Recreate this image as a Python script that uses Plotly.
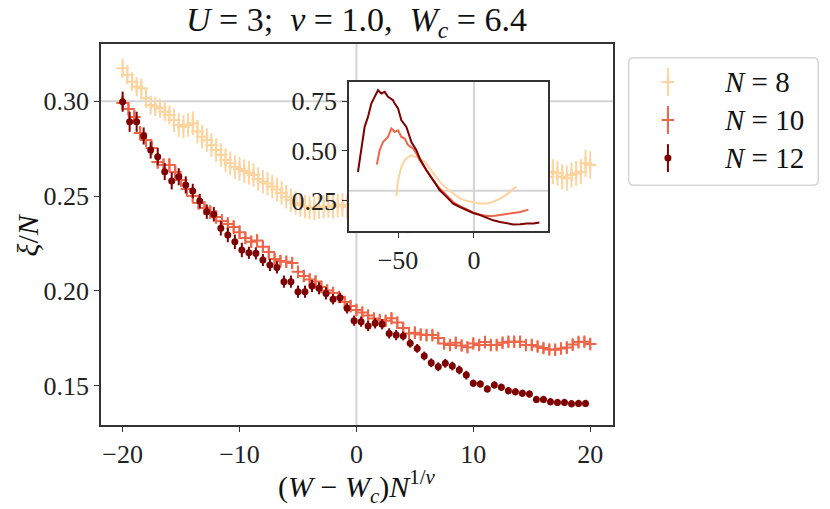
import plotly.graph_objects as go

# ---------------- data ----------------
# scaled variable x = (W - Wc) N^(1/nu); regular sampling grid per system size
x_n8 = [round(-20 + 0.4 * i, 1) for i in range(101)]
x_n10 = [round(-20 + 0.5 * i, 1) for i in range(81)]
x_n12 = [round(-20 + 0.6 * i, 1) for i in range(67)]

xi_n8 = [
    0.3174, 0.3139, 0.3103, 0.3077, 0.3069, 0.3016, 0.2980, 0.2972, 0.2963, 0.2945,
    0.2928, 0.2901, 0.2875, 0.2866, 0.2875, 0.2884, 0.2840, 0.2813, 0.2796, 0.2770,
    0.2743, 0.2717, 0.2690, 0.2673, 0.2653, 0.2643, 0.2632, 0.2622, 0.2611, 0.2590,
    0.2576, 0.2566, 0.2550, 0.2535, 0.2516, 0.2497, 0.2479, 0.2464, 0.2453, 0.2445,
    0.2440, 0.2436, 0.2441, 0.2445, 0.2448, 0.2444, 0.2450, 0.2453, 0.2444,
    0.2443, 0.2437, 0.2432, 0.2427, 0.2421, 0.2416, 0.2411, 0.2400, 0.2395, 0.2390,
    0.2379, 0.2374, 0.2369, 0.2374, 0.2379, 0.2379, 0.2384, 0.2379, 0.2384, 0.2390,
    0.2384, 0.2390, 0.2395, 0.2390, 0.2406, 0.2416, 0.2427, 0.2437, 0.2453, 0.2464,
    0.2479, 0.2490, 0.2501, 0.2511, 0.2522, 0.2533, 0.2543, 0.2553, 0.2564, 0.2574,
    0.2585, 0.2596,
    0.2602, 0.2629, 0.2620, 0.2602, 0.2594, 0.2611, 0.2620, 0.2629, 0.2673, 0.2664,
]
err_n8 = [0.0050] * 11 + [0.0062] * 38 + [0.0066] * 50 + [0.0072] * 2

xi_n10 = [
    0.2991, 0.2959, 0.2917, 0.2833, 0.2796, 0.2754, 0.2680, 0.2664, 0.2664, 0.2627,
    0.2585, 0.2537, 0.2501, 0.2464, 0.2437, 0.2416, 0.2390, 0.2369, 0.2353, 0.2337,
    0.2310, 0.2279, 0.2259, 0.2266, 0.2233, 0.2205, 0.2168, 0.2158, 0.2154, 0.2147,
    0.2101, 0.2079, 0.2060, 0.2050, 0.2021, 0.2002, 0.1989, 0.1968, 0.1941, 0.1920,
    0.1899, 0.1886, 0.1870, 0.1854, 0.1847, 0.1843, 0.1856, 0.1833, 0.1804, 0.1776,
    0.1780, 0.1770, 0.1767, 0.1767, 0.1752, 0.1723, 0.1715, 0.1727, 0.1712, 0.1703,
    0.1723, 0.1715, 0.1730, 0.1715, 0.1715, 0.1727, 0.1732, 0.1732, 0.1732, 0.1715,
    0.1715, 0.1707, 0.1699, 0.1691, 0.1690, 0.1696, 0.1701, 0.1717, 0.1730, 0.1732,
    0.1720,
]
err_n10 = [0.0036] * 21 + [0.0031] * 20 + [0.0028] * 40

xi_n12 = [
    0.2998, 0.2892, 0.2892, 0.2817, 0.2743, 0.2708, 0.2629, 0.2580, 0.2602, 0.2559,
    0.2527, 0.2474, 0.2418, 0.2404, 0.2330, 0.2295, 0.2259, 0.2216, 0.2201, 0.2198,
    0.2163, 0.2137, 0.2124, 0.2049, 0.2049, 0.1996, 0.1996, 0.2026, 0.2014, 0.1987,
    0.1956, 0.1964, 0.1908, 0.1843, 0.1838, 0.1815, 0.1829, 0.1824, 0.1776, 0.1767,
    0.1762, 0.1724, 0.1697, 0.1657, 0.1621, 0.1600, 0.1618, 0.1604, 0.1583, 0.1556,
    0.1513, 0.1509, 0.1483, 0.1504, 0.1492, 0.1474, 0.1468, 0.1460, 0.1456, 0.1428,
    0.1428, 0.1416, 0.1412, 0.1412, 0.1405, 0.1407, 0.1407,
]
err_n12 = [0.0053] * 3 + [0.0045] * 7 + [0.0038] * 8 + [0.0032] * 12 + [0.0027] * 10 + [0.0023] * 10 + [0.0019] * 17

# inset: same quantity over the full scaled range
ins_x_n8 = [-51.1, -50, -47.8, -45.6, -43.4, -41.2, -39, -36.8, -34.5, -32.4, -29.1, -25.8,
            -22.5, -18, -13.7, -9.2, -4.8, -0.5, 4, 7.3, 10.6, 15, 19.4, 23.8, 26, 28.2]
ins_y_n8 = [0.272, 0.353, 0.420, 0.453, 0.470, 0.478, 0.470, 0.467, 0.457, 0.445, 0.411, 0.378,
            0.344, 0.311, 0.286, 0.261, 0.249, 0.243, 0.235, 0.235, 0.238, 0.252, 0.269, 0.294,
            0.311, 0.319]
ins_x_n10 = [-63.9, -62.1, -59.9, -56.6, -54.4, -52.2, -50, -47.8, -45.6, -43.4, -40.1, -37.9,
             -35.7, -31.3, -26.9, -22.5, -18, -13.7, -9.2, -4.8, -0.5, 4, 8.4, 12.7, 17.2, 21.6,
             26, 30.4, 34.8, 35.9]
ins_y_n10 = [0.432, 0.504, 0.545, 0.570, 0.613, 0.596, 0.604, 0.570, 0.562, 0.529, 0.512, 0.487,
             0.453, 0.403, 0.353, 0.311, 0.277, 0.243, 0.222, 0.205, 0.191, 0.180, 0.173, 0.173,
             0.177, 0.182, 0.188, 0.193, 0.202, 0.205]
ins_x_n12 = [-76.4, -74.2, -72, -69.8, -67.6, -65.4, -63.2, -61, -58.8, -56.6, -53.3, -52.2,
             -50, -47.8, -44.5, -41.2, -37.9, -35.7, -31.3, -26.9, -22.5, -18, -13.7, -9.2,
             -4.8, -0.5, 4, 8.4, 12.7, 17.2, 21.6, 26, 30.4, 34.8, 39.2, 43.1]
ins_y_n12 = [0.394, 0.520, 0.621, 0.671, 0.738, 0.772, 0.805, 0.789, 0.797, 0.772, 0.755, 0.738,
             0.713, 0.654, 0.621, 0.545, 0.504, 0.462, 0.403, 0.353, 0.302, 0.269, 0.235, 0.218,
             0.202, 0.188, 0.177, 0.163, 0.151, 0.143, 0.135, 0.130, 0.131, 0.135, 0.135, 0.140]

labels = ["8", "10", "12"]
x_ticks = [-20, -10, 0, 10, 20]
x_ticktext = ["\u221220", "\u221210", "0", "10", "20"]
y_ticks = [0.15, 0.20, 0.25, 0.30]
y_ticktext = ["0.15", "0.20", "0.25", "0.30"]
ins_x_ticks = [-50, 0]
ins_x_ticktext = ["\u221250", "0"]
ins_y_ticks = [0.25, 0.50, 0.75]
ins_y_ticktext = ["0.25", "0.50", "0.75"]

# ---------------- style ----------------
C8, C10, C12 = "#fdd49e", "#ef6548", "#7f0000"
FONT = "Liberation Serif"
AX = "#333333"
REF = "#d4d4d4"

fig = go.Figure()

def cross(color):
    return dict(symbol="cross-thin", size=9, color=color, line=dict(color=color, width=2))

fig.add_trace(go.Scatter(x=x_n8, y=xi_n8, mode="markers", marker=cross(C8),
                         error_y=dict(type="data", array=err_n8, color=C8, thickness=2, width=0),
                         xaxis="x", yaxis="y", showlegend=False))
fig.add_trace(go.Scatter(x=x_n10, y=xi_n10, mode="markers", marker=cross(C10),
                         error_y=dict(type="data", array=err_n10, color=C10, thickness=2, width=0),
                         xaxis="x", yaxis="y", showlegend=False))
fig.add_trace(go.Scatter(x=x_n12, y=xi_n12, mode="markers",
                         marker=dict(symbol="circle", size=7, color=C12),
                         error_y=dict(type="data", array=err_n12, color=C12, thickness=2, width=0),
                         xaxis="x", yaxis="y", showlegend=False))

# inset lines
for xs, ys, c in [(ins_x_n8, ins_y_n8, C8), (ins_x_n10, ins_y_n10, C10), (ins_x_n12, ins_y_n12, C12)]:
    fig.add_trace(go.Scatter(x=xs, y=ys, mode="lines", line=dict(color=c, width=2),
                             xaxis="x2", yaxis="y2", showlegend=False))

# hand-made legend (with error-bar glyphs, like the reference)
leg_x = [0.209, 0.209, 0.209]
leg_y = [0.806, 0.512, 0.217]
leg_err = [0.108, 0.108, 0.108]
for i, (c, sym) in enumerate([(C8, "cross"), (C10, "cross"), (C12, "dot")]):
    mk = cross(c) if sym == "cross" else dict(symbol="circle", size=7, color=c)
    fig.add_trace(go.Scatter(x=[leg_x[i]], y=[leg_y[i]], mode="markers", marker=mk,
                             error_y=dict(type="data", array=[leg_err[i]], color=c, thickness=2, width=0),
                             xaxis="x3", yaxis="y3", showlegend=False, hoverinfo="skip"))

X_RANGE = [-21.85, 21.95]
Y_RANGE = [0.1293, 0.3302]
IX_RANGE = [-82.3, 48.8]
IY_RANGE = [0.097, 0.846]

shapes = [
    # main reference lines
    dict(type="line", xref="x", yref="y", x0=X_RANGE[0], x1=X_RANGE[1], y0=0.30, y1=0.30,
         line=dict(color=REF, width=2), layer="below"),
    dict(type="line", xref="x", yref="y", x0=0, x1=0, y0=Y_RANGE[0], y1=Y_RANGE[1],
         line=dict(color=REF, width=2), layer="below"),
    # opaque inset background
    dict(type="rect", xref="x2", yref="y2", x0=IX_RANGE[0], x1=IX_RANGE[1], y0=IY_RANGE[0], y1=IY_RANGE[1],
         fillcolor="white", line=dict(width=0), layer="below"),
    dict(type="line", xref="x2", yref="y2", x0=IX_RANGE[0], x1=IX_RANGE[1], y0=0.30, y1=0.30,
         line=dict(color=REF, width=2), layer="below"),
    dict(type="line", xref="x2", yref="y2", x0=0, x1=0, y0=IY_RANGE[0], y1=IY_RANGE[1],
         line=dict(color=REF, width=2), layer="below"),
]
# rounded legend frame
rx, ry = 5 / 191, 5 / 129
x0, x1, y0, y1 = 0.004, 0.996, 0.006, 0.994
path = (f"M {x0+rx},{y0} L {x1-rx},{y0} Q {x1},{y0} {x1},{y0+ry} L {x1},{y1-ry} "
        f"Q {x1},{y1} {x1-rx},{y1} L {x0+rx},{y1} Q {x0},{y1} {x0},{y1-ry} "
        f"L {x0},{y0+ry} Q {x0},{y0} {x0+rx},{y0} Z")
shapes.append(dict(type="path", xref="x3", yref="y3", path=path, fillcolor="white",
                   line=dict(color="#d6d6d6", width=1.5), layer="below"))

tickfont = dict(family=FONT, size=26, color="#222222")
common = dict(showline=True, mirror=True, linecolor=AX, linewidth=1.5, ticks="outside",
              ticklen=5, tickwidth=1.3, tickcolor=AX, showgrid=False, zeroline=False,
              tickfont=tickfont)

annotations = [
    dict(text="<i>U</i> = 3;  <i>\u03bd</i> = 1.0,  <i>W</i><sub><i>c</i></sub> = 6.4",
         xref="paper", yref="paper", x=0.3565, y=1.058, showarrow=False,
         xanchor="center", yanchor="middle", font=dict(family=FONT, size=34, color="#111111")),
    dict(text="(<i>W</i> \u2212 <i>W</i><sub><i>c</i></sub>)<i>N</i><sup>1/<i>\u03bd</i></sup>",
         xref="paper", yref="paper", x=0.3565, y=-0.162, showarrow=False,
         xanchor="center", yanchor="middle", font=dict(family=FONT, size=30, color="#111111")),
    dict(text="<i>\u03be</i>/<i>N</i>", xref="paper", yref="paper", x=-0.1017, y=0.5,
         textangle=-90, showarrow=False, xanchor="center", yanchor="middle",
         font=dict(family=FONT, size=30, color="#111111")),
]
for i, lab in enumerate(labels):
    annotations.append(dict(text=f"<i>N</i> = {lab}", xref="x3", yref="y3", x=0.492, y=leg_y[i],
                            showarrow=False, xanchor="left", yanchor="middle",
                            font=dict(family=FONT, size=29, color="#111111")))

fig.update_layout(
    width=830, height=509,
    margin=dict(l=101, r=11, t=44, b=84),
    paper_bgcolor="white", plot_bgcolor="white",
    showlegend=False,
    xaxis=dict(domain=[0, 0.7131], range=X_RANGE, tickvals=x_ticks, ticktext=x_ticktext, anchor="y", **common),
    yaxis=dict(domain=[0, 1], range=Y_RANGE, tickvals=y_ticks, ticktext=y_ticktext, anchor="x", **common),
    xaxis2=dict(domain=[0.3454, 0.6226], range=IX_RANGE, tickvals=ins_x_ticks, ticktext=ins_x_ticktext,
                anchor="y2", **common),
    yaxis2=dict(domain=[0.509, 0.900], range=IY_RANGE, tickvals=ins_y_ticks, ticktext=ins_y_ticktext,
                anchor="x2", **common),
    xaxis3=dict(domain=[0.734, 1.0], range=[0, 1], visible=False, anchor="y3", fixedrange=True),
    yaxis3=dict(domain=[0.627, 0.966], range=[0, 1], visible=False, anchor="x3", fixedrange=True),
    shapes=shapes,
    annotations=annotations,
)

fig.write_html("out.html", config={"displayModeBar": False},
               post_script="document.body.style.margin='0px';")
